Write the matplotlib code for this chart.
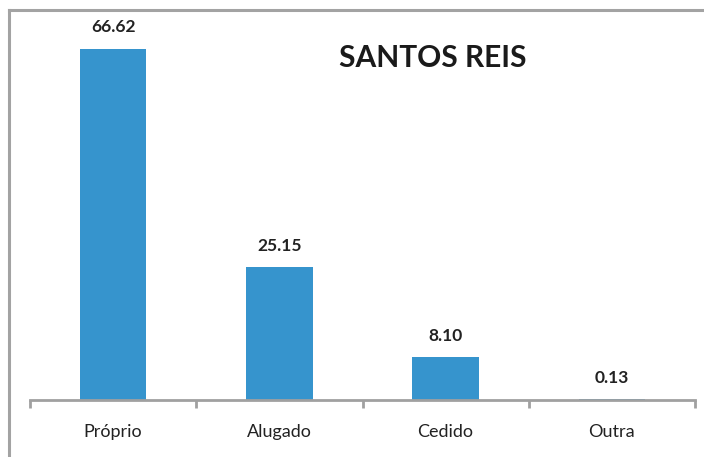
import matplotlib
matplotlib.use("Agg")
from matplotlib import pyplot as plt
from matplotlib.lines import Line2D

# data
categorias = ["Próprio", "Alugado", "Cedido", "Outra"]
valores = [66.62, 25.15, 8.10, 0.13]
rotulos = ["66.62", "25.15", "8.10", "0.13"]

plt.rcParams['font.family'] = ['Lato', 'DejaVu Sans']

W, H = 704, 457
fig = plt.figure(figsize=(W / 100, H / 100), dpi=100)

# outer gray frame: only top and left edges are visible in the reference
fy = 1 - 10 / H
fx = 9 / W
fig.lines.append(Line2D([fx, 1.0], [fy, fy], transform=fig.transFigure,
                        color="#A3A3A3", linewidth=2.2))
fig.lines.append(Line2D([fx, fx], [0, fy], transform=fig.transFigure,
                        color="#A3A3A3", linewidth=2.2))

# plot area: x from 30 to 695 px, baseline at y=400 px
ax = fig.add_axes([30 / W, 57 / H, 665 / W, 378 / H])
x = range(len(categorias))
ax.bar(x, valores, width=0.4, color="#3694CD")
ax.set_xlim(-0.5, 3.5)
ax.set_ylim(0, 71.7)

for xi, v, r in zip(x, valores, rotulos):
    ax.text(xi, v + 2.6, r, ha="center", va="bottom",
            fontsize=12.5, fontweight="bold", color="#222222")

for s in ["top", "right", "left"]:
    ax.spines[s].set_visible(False)
ax.spines["bottom"].set_color("#A0A0A0")
ax.spines["bottom"].set_linewidth(2)
ax.set_yticks([])

ax.set_xticks([-0.5, 0.5, 1.5, 2.5, 3.5], minor=False)
ax.set_xticklabels([])
ax.tick_params(axis="x", which="major", length=6, width=2, color="#A0A0A0")
ax.set_xticks(list(x), minor=True)
ax.set_xticklabels(categorias, minor=True)
ax.tick_params(axis="x", which="minor", length=0, pad=17,
               labelsize=13, labelcolor="#222222")

fig.text(433 / W, 1 - 58 / H, "SANTOS REIS", ha="center", va="center",
         fontsize=21.5, fontweight="bold", color="#1a1a1a")

fig.savefig("out.png", dpi=100)
